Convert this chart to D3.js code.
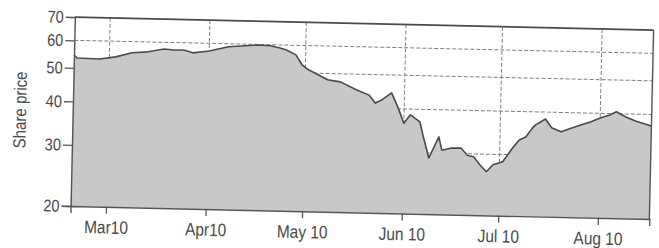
<!DOCTYPE html>
<html>
<head>
<meta charset="utf-8">
<script src="https://cdn.jsdelivr.net/npm/d3@7"></script>
<style>
  body { margin: 0; background: #fff; }
  svg { display: block; }
  .tick text { font-family: "Liberation Sans", Arial, sans-serif; fill: #4a4a4a; }
</style>
</head>
<body>
<script>
// ---------- data ----------
var dates = ["2010-02-18","2010-02-19","2010-02-26","2010-03-03","2010-03-08","2010-03-13",
  "2010-03-18","2010-03-21","2010-03-24","2010-03-27","2010-04-01","2010-04-07","2010-04-16",
  "2010-04-20","2010-04-23","2010-04-25","2010-04-28","2010-04-30","2010-05-02","2010-05-04",
  "2010-05-08","2010-05-12","2010-05-17","2010-05-21","2010-05-23","2010-05-25","2010-05-28",
  "2010-05-30","2010-06-01","2010-06-03","2010-06-06","2010-06-07","2010-06-09","2010-06-12",
  "2010-06-13","2010-06-16","2010-06-19","2010-06-21","2010-06-23","2010-06-25","2010-06-27",
  "2010-06-29","2010-07-02","2010-07-05","2010-07-07","2010-07-09","2010-07-11","2010-07-12",
  "2010-07-15","2010-07-17","2010-07-20","2010-07-23","2010-07-26","2010-07-29","2010-08-01",
  "2010-08-04","2010-08-06","2010-08-09","2010-08-12","2010-08-16","2010-08-17"];
var prices = [54.4,53.4,53.2,54.1,55.7,56.2,
  57.4,57.1,57.2,56.2,57.0,58.8,59.8,
  59.6,58.8,58.1,56.3,52.7,51.1,50.1,
  48.0,47.4,45.1,43.6,41.4,42.3,44.4,
  40.5,36.4,38.5,36.8,33.8,29.0,33.4,
  30.6,31.1,31.1,29.7,29.4,27.9,26.7,
  28.0,28.6,31.4,33.1,33.8,35.9,36.7,
  38.2,36.1,35.2,36.1,36.9,37.7,38.8,
  39.6,40.5,39.2,38.2,37.3,37.0];

var yTicks = [20, 30, 40, 50, 60, 70],
    yGrid = [30, 40, 50, 60];
var monthTicks = ["2010-03-01","2010-04-01","2010-05-01","2010-06-01","2010-07-01","2010-08-01"],
    monthLabels = ["Mar10","Apr10","May 10","Jun 10","Jul 10","Aug 10"];

// ---------- layout ----------
var width = 659, height = 248,
    plotLeft = 70.6, plotRight = 649.5, plotTop = 17, plotBottom = 206,
    skew = 1.29,      // the scan is slightly rotated
    narrow = 0.86;    // condensed look of the original type

var parse = d3.timeParse("%Y-%m-%d");
var data = dates.map(function(d, i) { return { date: parse(d), price: prices[i] }; });

var x = d3.scaleTime()
    .domain([parse("2010-02-18"), parse("2010-08-17")])
    .range([plotLeft, plotRight]);
var y = d3.scaleLog()
    .domain([20, 70])
    .range([plotBottom, plotTop]);

var svg = d3.select("body").append("svg")
    .attr("width", width)
    .attr("height", height);

var g = svg.append("g")
    .attr("transform", "rotate(" + skew + "," + plotLeft + "," + plotBottom + ")");

// gridlines (behind the area)
g.selectAll(".hgrid")
    .data(yGrid)
  .enter().append("line")
    .attr("x1", plotLeft).attr("x2", plotRight)
    .attr("y1", function(d) { return y(d); })
    .attr("y2", function(d) { return y(d); })
    .attr("stroke", "#808080")
    .attr("stroke-width", 1)
    .attr("stroke-dasharray", "4,2");

g.selectAll(".vgrid")
    .data(monthTicks.map(parse))
  .enter().append("line")
    .attr("x1", function(d) { return x(d); })
    .attr("x2", function(d) { return x(d); })
    .attr("y1", plotTop).attr("y2", plotBottom)
    .attr("stroke", "#808080")
    .attr("stroke-width", 1)
    .attr("stroke-dasharray", "4,2");

// area + line
var area = d3.area()
    .x(function(d) { return x(d.date); })
    .y0(plotBottom)
    .y1(function(d) { return y(d.price); });
var line = d3.line()
    .x(function(d) { return x(d.date); })
    .y(function(d) { return y(d.price); });

g.append("path")
    .datum(data)
    .attr("d", area)
    .attr("fill", "#c8c8c8");

g.append("path")
    .datum(data)
    .attr("d", line)
    .attr("fill", "none")
    .attr("stroke", "#4a4a4a")
    .attr("stroke-width", 1.6)
    .attr("stroke-linejoin", "round");

// frame: top and right borders
g.append("line")
    .attr("x1", plotLeft).attr("x2", plotRight)
    .attr("y1", plotTop).attr("y2", plotTop)
    .attr("stroke", "#4a4a4a").attr("stroke-width", 1.8);
g.append("line")
    .attr("x1", plotRight).attr("x2", plotRight)
    .attr("y1", plotTop).attr("y2", plotBottom)
    .attr("stroke", "#555").attr("stroke-width", 1.4);

// axes
var yAxis = g.append("g")
    .attr("transform", "translate(" + plotLeft + ",0)")
    .call(d3.axisLeft(y)
        .tickValues(yTicks)
        .tickFormat(d3.format("d"))
        .tickSize(9)
        .tickPadding(2));
yAxis.selectAll("text")
    .style("font-size", "17px")
    .attr("x", -11 / narrow)
    .attr("transform", "scale(" + narrow + ",1)");

var xAxis = g.append("g")
    .attr("transform", "translate(0," + plotBottom + ")")
    .call(d3.axisBottom(x)
        .tickValues(monthTicks.map(parse))
        .tickFormat(function(d, i) { return monthLabels[i]; })
        .tickSize(7)
        .tickPadding(7));
xAxis.selectAll("text")
    .style("font-size", "18px")
    .attr("transform", "scale(" + narrow + ",1)");

g.selectAll(".domain").attr("stroke", "#555").attr("stroke-width", 1.4);
g.selectAll(".tick line").attr("stroke", "#555").attr("stroke-width", 1.3);

// y title
g.append("text")
    .attr("transform", "translate(24,111) rotate(-90) scale(" + narrow + ",1)")
    .attr("text-anchor", "middle")
    .style("font-family", "'Liberation Sans', Arial, sans-serif")
    .style("font-size", "17.5px")
    .attr("fill", "#4a4a4a")
    .text("Share price");
</script>
</body>
</html>
